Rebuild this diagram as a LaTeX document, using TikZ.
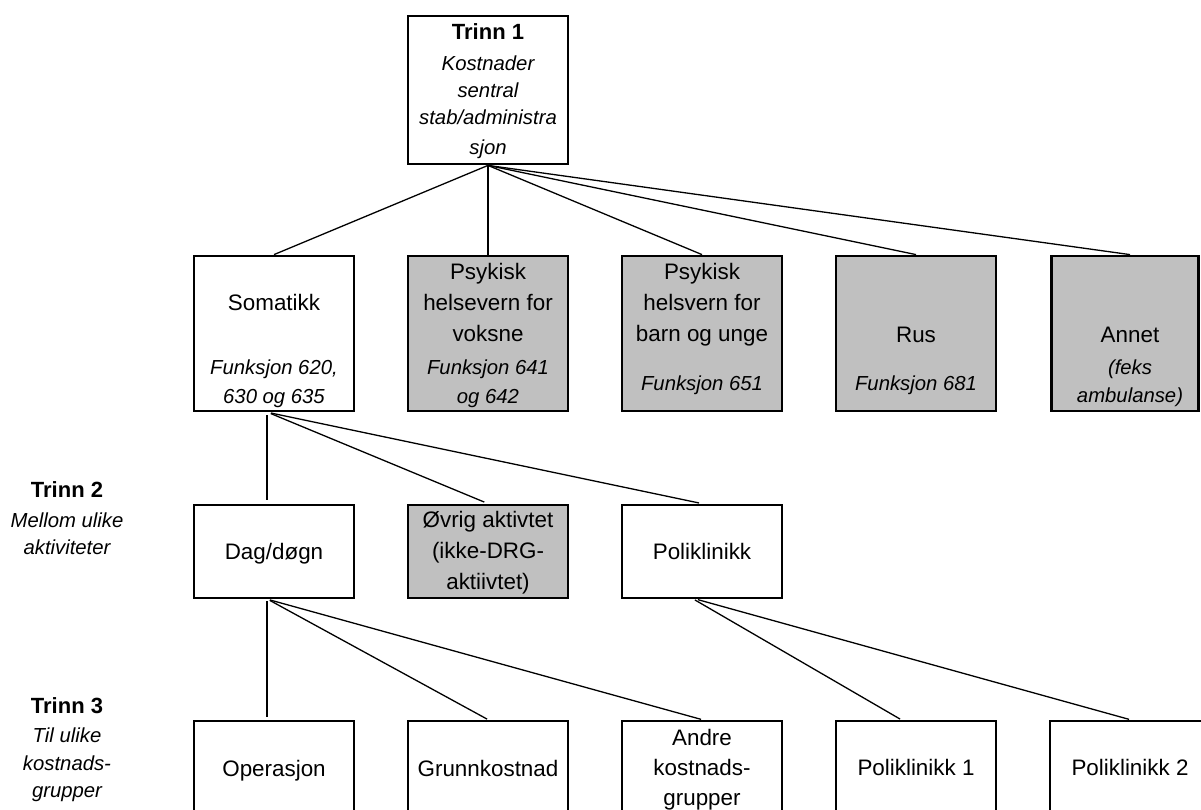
\documentclass[tikz,border=0pt]{standalone}
\usepackage{fontspec}
\setmainfont{Liberation Sans}
\definecolor{boxgray}{HTML}{C0C0C0}
\begin{document}
\begin{tikzpicture}[x=1pt,y=-1pt,
  box/.style={draw,line width=2.8pt,fill=white,minimum width=160pt,inner sep=0pt},
  gbox/.style={box,fill=boxgray},
  conn/.style={line width=1.3pt},
  rg/.style={font=\fontsize{22.4}{26}\selectfont,anchor=base,inner sep=0pt},
  it/.style={font=\fontsize{20.3}{24}\selectfont\itshape,anchor=base,inner sep=0pt},
  bf/.style={font=\fontsize{22}{26}\selectfont\bfseries,anchor=base,inner sep=0pt}]
\useasboundingbox (0,0) rectangle (1201,809);
\clip (0,0) rectangle (1201,809);

% boxes (drawn as empty nodes, texts placed separately)
\node[box,minimum height=148pt] (top) at (488,90) {};
\node[box,minimum height=155pt] (som) at (274,333.5) {};
\node[gbox,minimum height=155pt] (vok) at (488,333.5) {};
\node[gbox,minimum height=155pt] (bar) at (702,333.5) {};
\node[gbox,minimum height=155pt] (rus) at (916,333.5) {};
\node[gbox,minimum height=155pt,minimum width=147pt] (ann) at (1125,333.5) {};
\node[box,minimum height=93pt] (dag) at (274,551.5) {};
\node[gbox,minimum height=93pt] (ovr) at (488,551.5) {};
\node[box,minimum height=93pt] (pol) at (702,551.5) {};
\node[box,minimum height=110pt] (ope) at (274,776) {};
\node[box,minimum height=110pt] (gru) at (488,776) {};
\node[box,minimum height=110pt] (and) at (702,776) {};
\node[box,minimum height=110pt] (po1) at (916,776) {};
\node[box,minimum height=110pt] (po2) at (1130,776) {};

% connectors
\begin{scope}[conn]
\draw (top.south) -- (som.north);
\draw (top.south) -- (vok.north);
\draw (top.south) -- (bar.north);
\draw (top.south) -- (rus.north);
\draw (top.south) -- ([xshift=5pt]ann.north);
\draw[shorten <=3pt,shorten >=4pt] ([xshift=-7pt]som.south) -- ([xshift=-7pt]dag.north);
\draw[shorten <=3pt,shorten >=4pt] ([xshift=-6pt]som.south) -- (ovr.north);
\draw[shorten <=3pt,shorten >=3pt] ([xshift=-6pt]som.south) -- (pol.north);
\draw[shorten <=2pt,shorten >=3pt] ([xshift=-7pt]dag.south) -- ([xshift=-7pt]ope.north);
\draw[shorten <=2pt,shorten >=1pt] ([xshift=-6pt]dag.south) -- (gru.north);
\draw[shorten <=2pt,shorten >=1pt] ([xshift=-6pt]dag.south) -- (and.north);
\draw[shorten <=1pt,shorten >=1pt] ([xshift=-8pt]pol.south) -- ([xshift=-15pt]po1.north);
\draw[shorten <=1pt,shorten >=1pt] ([xshift=-5pt]pol.south) -- (po2.north);
\end{scope}
% redraw boxes over connector ends
\node[box,minimum height=148pt] at (top) {};
\node[box,minimum height=155pt] at (som) {};
\node[gbox,minimum height=155pt] at (vok) {};
\node[gbox,minimum height=155pt] at (bar) {};
\node[gbox,minimum height=155pt] at (rus) {};
\node[gbox,minimum height=155pt,minimum width=147pt] at (ann) {};
\node[box,minimum height=93pt] at (dag) {};
\node[gbox,minimum height=93pt] at (ovr) {};
\node[box,minimum height=93pt] at (pol) {};
\node[box,minimum height=110pt] at (ope) {};
\node[box,minimum height=110pt] at (gru) {};
\node[box,minimum height=110pt] at (and) {};
\node[box,minimum height=110pt] at (po1) {};
\node[box,minimum height=110pt] at (po2) {};

% texts: top box
\node[bf] (t1a) at (488,39) {Trinn 1};
\node[it] (t1b) at (488,70) {Kostnader};
\node[it] (t1c) at (488,97) {sentral};
\node[it] (t1d) at (488,124) {stab/administra};
\node[it] (t1e) at (488,154) {sjon};
% row 2
\node[rg] (t2a) at (274,310) {Somatikk};
\node[it] (t2b) at (274,374) {Funksjon 620,};
\node[it] (t2c) at (274,403) {630 og 635};
\node[rg] (t3a) at (488,279) {Psykisk};
\node[rg] (t3b) at (488,310) {helsevern for};
\node[rg] (t3c) at (488,341) {voksne};
\node[it] (t3d) at (488,374) {Funksjon 641};
\node[it] (t3e) at (488,403) {og 642};
\node[rg] (t4a) at (702,279) {Psykisk};
\node[rg] (t4b) at (702,310) {helsvern for};
\node[rg] (t4c) at (702,341) {barn og unge};
\node[it] (t4d) at (702,390) {Funksjon 651};
\node[rg] (t5a) at (916,342) {Rus};
\node[it] (t5b) at (916,390) {Funksjon 681};
\node[rg] (t6a) at (1130,342) {Annet};
\node[it] (t6b) at (1130,374) {(feks};
\node[it] (t6c) at (1130,402) {ambulanse)};
% row 3
\node[rg] (t7a) at (274,559) {Dag/døgn};
\node[rg] (t8a) at (488,527) {Øvrig aktivtet};
\node[rg] (t8b) at (488,558) {(ikke-DRG-};
\node[rg] (t8c) at (488,589) {aktiivtet)};
\node[rg] (t9a) at (702,559) {Poliklinikk};
% row 4
\node[rg] (t10) at (274,776) {Operasjon};
\node[rg] (t11) at (488,776) {Grunnkostnad};
\node[rg] (t12a) at (702,745) {Andre};
\node[rg] (t12b) at (702,775) {kostnads-};
\node[rg] (t12c) at (702,805) {grupper};
\node[rg] (t13) at (916,775) {Poliklinikk 1};
\node[rg] (t14) at (1130,775) {Poliklinikk 2};
% left labels
\node[bf] (l2a) at (67,497) {Trinn 2};
\node[it] (l2b) at (67,527) {Mellom ulike};
\node[it] (l2c) at (67,554) {aktiviteter};
\node[bf] (l3a) at (67,713) {Trinn 3};
\node[it] (l3b) at (67,742) {Til ulike};
\node[it] (l3c) at (67,770) {kostnads-};
\node[it] (l3d) at (67,797) {grupper};
\end{tikzpicture}
\end{document}
